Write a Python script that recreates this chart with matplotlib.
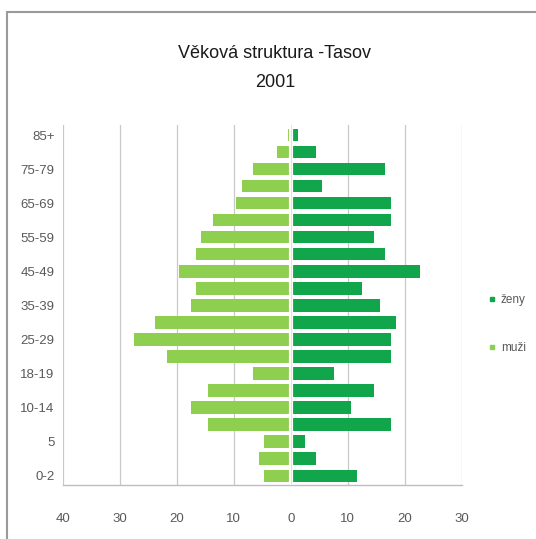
import matplotlib
matplotlib.use("Agg")
import matplotlib.pyplot as plt
from matplotlib.lines import Line2D
from matplotlib.patches import Rectangle
import numpy as np

categories = ["0-2", "3-4", "5", "6-9", "10-14", "15-17", "18-19", "20-24", "25-29",
              "30-34", "35-39", "40-44", "45-49", "50-54", "55-59", "60-64", "65-69",
              "70-74", "75-79", "80-84", "85+"]
muzi = [4.7, 5.6, 4.7, 14.6, 17.6, 14.6, 6.6, 21.7, 27.6, 23.9, 17.6, 16.6, 19.6,
        16.6, 15.8, 13.6, 9.7, 8.6, 6.6, 2.5, 0.5]
zeny = [11.6, 4.5, 2.5, 17.6, 10.6, 14.6, 7.5, 17.6, 17.6, 18.5, 15.6, 12.5, 22.6,
        16.6, 14.6, 17.6, 17.6, 5.5, 16.5, 4.5, 1.3]
xticks = [-40, -30, -20, -10, 0, 10, 20, 30]
title = "Věková struktura -Tasov\n2001"

plt.rcParams["font.family"] = ["Liberation Sans", "DejaVu Sans"]

c_zeny = "#12a64c"
c_muzi = "#8fcf4f"
grid_c = "#c8c8c8"
txt_c = "#595959"

fig = plt.figure(figsize=(5.36, 5.39), dpi=100)
ax = fig.add_axes([63/536, 1-485/539, (461.7-63)/536, (485-125)/539])

y = np.arange(len(categories))
ax.barh(y, [-v for v in muzi], height=0.72, color=c_muzi, zorder=3)
ax.barh(y, zeny, height=0.72, color=c_zeny, zorder=3)
ax.axvline(0, color="white", lw=3, zorder=4)
ax.axvline(0, color="#dbe6ee", lw=0.8, zorder=5)

ax.set_xlim(-40, 30)
ax.set_ylim(-0.55, 20.6)
ax.set_xticks(xticks)
ax.set_xticklabels([str(abs(t)) for t in xticks])
ax.set_yticks(y[::2])
ax.set_yticklabels(categories[::2])
ax.tick_params(length=0, colors=txt_c, labelsize=9.5)
ax.tick_params(axis="x", pad=20)
ax.tick_params(axis="y", pad=6)
for t in ax.get_xticks():
    ax.axvline(t, color=grid_c, lw=0.9, zorder=1)
for s in ["top", "right", "left"]:
    ax.spines[s].set_visible(False)
ax.spines["bottom"].set_color("#bdbdbd")
ax.spines["bottom"].set_linewidth(1.0)

fig.text(275/536, 1-68/539, title, ha="center", va="center", fontsize=13,
         color="#1a1a1a", linespacing=1.95)

handles = [Line2D([], [], marker="s", ls="", color=c_zeny, markersize=3),
           Line2D([], [], marker="s", ls="", color=c_muzi, markersize=3)]
fig.legend(handles, ["ženy", "muži"], loc="center left",
           bbox_to_anchor=(489/536, 1-324/539), frameon=False, fontsize=8.5,
           labelcolor=txt_c, labelspacing=3.0, handlelength=0.5, handletextpad=0.5,
           borderpad=0, borderaxespad=0)

# chart frame (top and left edges visible)
fig.add_artist(Rectangle((7/536, -0.1), 1.2, 1+0.1-12/539, transform=fig.transFigure,
                         fill=False, edgecolor="#9a9a9a", lw=1.5))

fig.savefig("out.png", dpi=100)
